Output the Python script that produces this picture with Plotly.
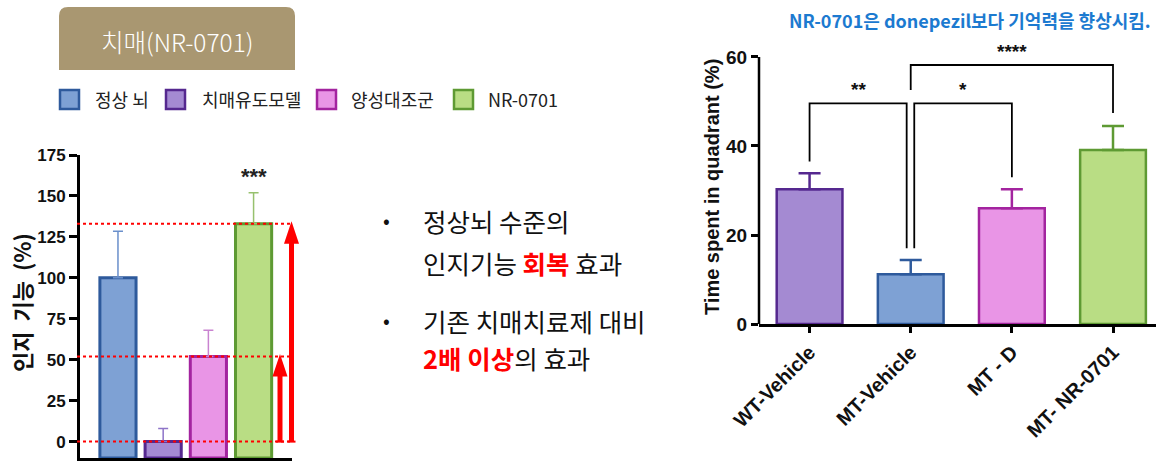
import plotly.graph_objects as go

W, H = 1156, 468

# ---- data -------------------------------------------------------------
# left panel: cognitive function (%) per group
groups_kr = ["정상 뇌", "치매유도모델", "양성대조군", "NR-0701"]
cog_mean = [100, 0, 52, 133]
cog_err = [28.5, 8, 16, 19]
cog_ticks = [0, 25, 50, 75, 100, 125, 150, 175]

# right panel: time spent in target quadrant (%)
quad_groups = ["WT-Vehicle", "MT-Vehicle", "MT - D", "MT- NR-0701"]
quad_mean = [30.3, 11.2, 26.0, 39.1]
quad_err = [3.6, 3.2, 4.3, 5.4]
quad_ticks = [0, 20, 40, 60]

# significance brackets: (left bar, right bar, bracket height, left foot, right foot, label)
comparisons = [
    (0.0, 0.96, 49.6, 36.5, 17.0, "**"),
    (1.035, 2.0, 49.6, 17.0, 33.0, "*"),
    (1.0, 3.0, 58.2, 52.6, 47.4, "****"),
]

# ---- styles -----------------------------------------------------------
BLUE = ("#7EA1D4", "#2E5A9C", "#6A8FCB")
PURPLE = ("#A48AD2", "#55288F", "#8E74C8")
PINK = ("#E995E6", "#A3249F", "#C983D0")
GREEN = ("#B9DD84", "#5E9A33", "#97C16E")
left_styles = [BLUE, PURPLE, PINK, GREEN]
right_styles = [PURPLE, BLUE, PINK, GREEN]

KR = "Noto Sans CJK KR"
SANS = "Liberation Sans, Arial"


def px(x):
    return x / W


def py(y):
    return 1 - y / H


def note(text, x, y, size, color="#111", family=KR, weight="normal",
         xanchor="center", angle=0):
    return dict(text=text, x=px(x), y=py(y), xref="paper", yref="paper",
                xanchor=xanchor, yanchor="middle", showarrow=False,
                textangle=angle,
                font=dict(family=family, size=size, color=color, weight=weight))


FLOOR = -10  # bottom of the left value axis

fig = go.Figure()

for i, (v, e) in enumerate(zip(cog_mean, cog_err)):
    f, edge, ec = left_styles[i]
    fig.add_trace(go.Bar(
        x=[i], y=[v - FLOOR], base=FLOOR, width=0.8,
        marker=dict(color=f, line=dict(color=edge, width=3)),
        error_y=dict(type="data", array=[e], arrayminus=[0], symmetric=False,
                     color=ec, thickness=1.5, width=5),
        xaxis="x", yaxis="y", showlegend=False, hoverinfo="skip",
    ))

for i, (v, e) in enumerate(zip(quad_mean, quad_err)):
    f, edge, _ = right_styles[i]
    fig.add_trace(go.Bar(
        x=[i], y=[v], width=0.65,
        marker=dict(color=f, line=dict(color=edge, width=2.5)),
        error_y=dict(type="data", array=[e], arrayminus=[0], symmetric=False,
                     color=edge, thickness=2.5, width=11),
        xaxis="x2", yaxis="y2", showlegend=False, hoverinfo="skip",
    ))

shapes = []
annotations = []

# header box with rounded top corners
x0, x1, yt, yb = px(59), px(295), py(7), py(70)
rx, ry = 9 / W, 9 / H
shapes.append(dict(
    type="path", xref="paper", yref="paper",
    path=(f"M {x0},{yb} L {x0},{yt - ry} Q {x0},{yt} {x0 + rx},{yt} "
          f"L {x1 - rx},{yt} Q {x1},{yt} {x1},{yt - ry} L {x1},{yb} Z"),
    fillcolor="#A99771", line=dict(width=0), layer="below",
))
annotations.append(note("치매(NR-0701)", 177, 41, 24.5, color="white", weight=300))

# legend row
leg_sq = [60, 166, 317, 454]
leg_tx = [93, 200, 349, 486]
for (f, edge, _), sx, tx, name in zip(left_styles, leg_sq, leg_tx, groups_kr):
    shapes.append(dict(
        type="rect", xref="paper", yref="paper",
        x0=px(sx), x1=px(sx + 19), y0=py(109), y1=py(90),
        fillcolor=f, line=dict(color=edge, width=2.5),
    ))
    annotations.append(note(name, tx, 99, 18, color="#222", xanchor="left"))

# dotted reference levels (NR-0701, positive control, disease model)
for lvl in (cog_mean[3], cog_mean[2], cog_mean[1]):
    shapes.append(dict(
        type="line", xref="paper", yref="y", x0=px(77), x1=px(291),
        y0=lvl, y1=lvl, line=dict(color="#FF0000", width=2, dash="dot"),
    ))

# red arrows rising from the disease-model level
unit_px = (458 - 155) / (175 - FLOOR)
head_h = 20 / unit_px
for ax_px, target in ((280, cog_mean[2]), (291.5, cog_mean[3])):
    xc = px(ax_px)
    hw = 7.5 / W
    base = cog_mean[1]
    shapes.append(dict(
        type="line", xref="paper", yref="y", x0=xc, x1=xc,
        y0=base, y1=target - head_h + 1, line=dict(color="#FF0000", width=5),
    ))
    shapes.append(dict(
        type="line", xref="paper", yref="y", x0=xc - 4 / W, x1=xc + 4 / W,
        y0=base, y1=base, line=dict(color="#FF0000", width=2),
    ))
    shapes.append(dict(
        type="path", xref="paper", yref="y",
        path=f"M {xc - hw},{target - head_h} L {xc + hw},{target - head_h} L {xc},{target + 1.5} Z",
        fillcolor="#FF0000", line=dict(width=0),
    ))

annotations.append(dict(
    text="***", x=3, y=162, xref="x", yref="y", showarrow=False,
    font=dict(family=SANS, size=22, color="#222", weight="bold"),
))

# axis titles
NB = "\u00a0"
annotations.append(note(f"인지{NB}{NB}기능{NB}{NB}(%)", 21, 303, 22,
                        weight="bold", angle=-90))
annotations.append(note("Time spent in quadrant (%)", 712, 187, 20,
                        family=SANS, weight="bold", angle=-90))

# bullet text in the middle
for yy in (220, 320):
    annotations.append(note("•", 386, yy - 1, 20))
lines = [
    (220, "정상뇌 수준의"),
    (262, "인지기능 <b><span style='color:#FF0000'>회복</span></b> 효과"),
    (320, "기존 치매치료제 대비"),
    (357, "<b><span style='color:#FF0000'>2배 이상</span></b>의 효과"),
]
for yy, t in lines:
    annotations.append(note(t, 421, yy, 25.5, xanchor="left"))

# headline over the right panel
annotations.append(note("NR-0701은 donepezil보다 기억력을 향상시킴.", 1153, 20, 18,
                        color="#1C7AD0", weight="bold", xanchor="right"))

# right value axis line (stops at the top tick)
shapes.append(dict(
    type="line", xref="x2 domain", yref="y2", x0=0, x1=0,
    y0=quad_ticks[0], y1=quad_ticks[-1], line=dict(color="black", width=2.5),
))

# significance brackets
for a, b, top, fa, fb, lab in comparisons:
    shapes.append(dict(
        type="path", xref="x2", yref="y2",
        path=f"M {a},{fa} L {a},{top} L {b},{top} L {b},{fb}",
        line=dict(color="black", width=1.8),
    ))
    annotations.append(dict(
        text=lab, x=(a + b) / 2, y=top + 0.2, xref="x2", yref="y2",
        yanchor="bottom", showarrow=False,
        font=dict(family=SANS, size=19, color="#111", weight="bold"),
    ))

Q_PX = (324 - 57) / 60

fig.update_layout(
    width=W, height=H, margin=dict(l=0, r=0, t=0, b=0),
    paper_bgcolor="white", plot_bgcolor="white", barmode="overlay",
    showlegend=False, shapes=shapes, annotations=annotations,
    xaxis=dict(
        domain=[px(80), px(292)], range=[-0.84, 3.85], anchor="y",
        showline=True, linewidth=3, linecolor="black", ticks="",
        showticklabels=False, showgrid=False, zeroline=False, automargin=False,
    ),
    yaxis=dict(
        domain=[py(458), py(155)], range=[FLOOR, 175], anchor="x",
        tickvals=cog_ticks, ticks="outside", ticklen=8, tickwidth=2.5,
        tickcolor="black", showline=True, linewidth=3, linecolor="black",
        showgrid=False, zeroline=False, automargin=False,
        tickfont=dict(family=SANS, size=17, color="#111", weight="bold"),
    ),
    xaxis2=dict(
        domain=[px(759), 1.0], range=[-0.5, 3.425], anchor="y2",
        tickvals=list(range(len(quad_groups))), ticktext=quad_groups,
        tickangle=-45, ticks="outside", ticklen=6, tickwidth=2.5, tickcolor="black",
        showline=True, linewidth=2.5, linecolor="black",
        showgrid=False, zeroline=False, automargin=False,
        tickfont=dict(family=SANS, size=20, color="#111", weight="bold"),
    ),
    yaxis2=dict(
        domain=[py(324), py(324 - 63.5 * Q_PX)], range=[0, 63.5], anchor="x2",
        tickvals=quad_ticks, ticks="outside", ticklen=7, tickwidth=2.5,
        tickcolor="black", showline=False,
        showgrid=False, zeroline=False, automargin=False,
        tickfont=dict(family=SANS, size=19, color="#111", weight="bold"),
    ),
)

fig.write_html("out.html")
